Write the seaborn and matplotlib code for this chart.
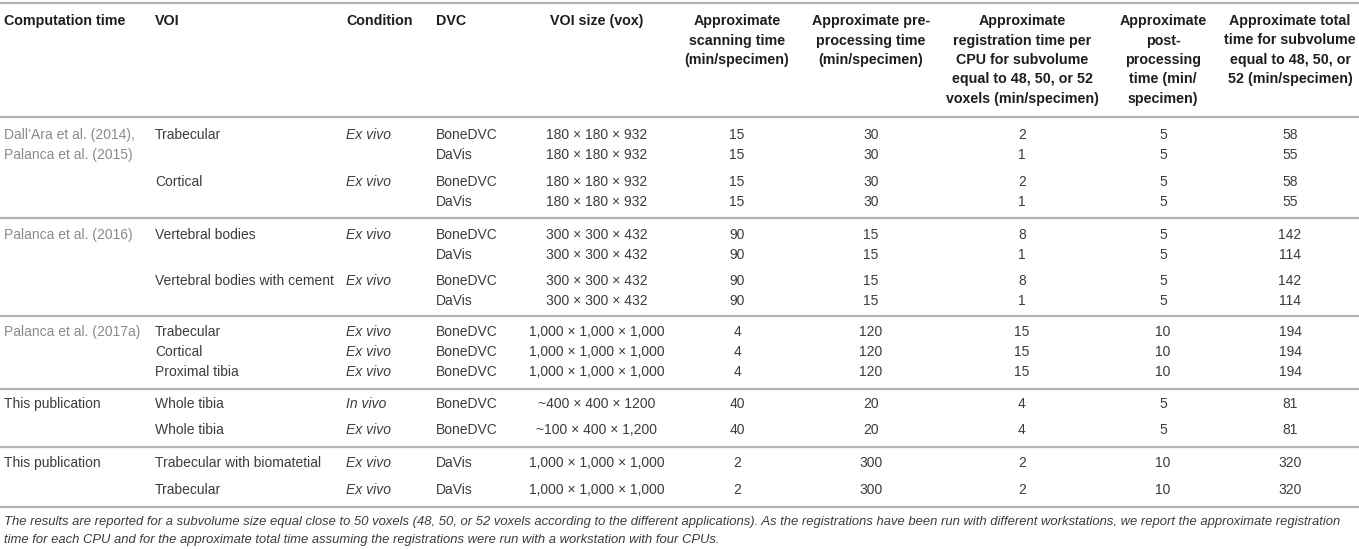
import matplotlib
matplotlib.use("Agg")
import matplotlib.pyplot as plt
import seaborn as sns

sns.set_theme(style="white")
plt.rcParams['font.family'] = ['Liberation Sans', 'DejaVu Sans']

# ---------------- data ----------------
headers = [
    "Computation time", "VOI", "Condition", "DVC", "VOI size (vox)",
    "Approximate\nscanning time\n(min/specimen)",
    "Approximate pre-\nprocessing time\n(min/specimen)",
    "Approximate\nregistration time per\nCPU for subvolume\nequal to 48, 50, or 52\nvoxels (min/specimen)",
    "Approximate\npost-\nprocessing\ntime (min/\nspecimen)",
    "Approximate total\ntime for subvolume\nequal to 48, 50, or\n52 (min/specimen)",
]
references = ["Dall’Ara et al. (2014),\nPalanca et al. (2015)", "Palanca et al. (2016)",
              "Palanca et al. (2017a)", "This publication", "This publication"]
reference_is_citation = [True, True, True, False, False]
row_group = [0, 0, 0, 0, 1, 1, 1, 1, 2, 2, 2, 3, 3, 4, 4]
voi = ["Trabecular", "", "Cortical", "",
       "Vertebral bodies", "", "Vertebral bodies with cement", "",
       "Trabecular", "Cortical", "Proximal tibia",
       "Whole tibia", "Whole tibia",
       "Trabecular with biomatetial", "Trabecular"]
condition = ["Ex vivo", "", "Ex vivo", "",
             "Ex vivo", "", "Ex vivo", "",
             "Ex vivo", "Ex vivo", "Ex vivo",
             "In vivo", "Ex vivo",
             "Ex vivo", "Ex vivo"]
dvc = ["BoneDVC", "DaVis", "BoneDVC", "DaVis",
       "BoneDVC", "DaVis", "BoneDVC", "DaVis",
       "BoneDVC", "BoneDVC", "BoneDVC",
       "BoneDVC", "BoneDVC",
       "DaVis", "DaVis"]
voi_size = ["180 × 180 × 932"] * 4 + ["300 × 300 × 432"] * 4 + ["1,000 × 1,000 × 1,000"] * 3 + \
           ["~400 × 400 × 1200", "~100 × 400 × 1,200"] + ["1,000 × 1,000 × 1,000"] * 2
scan_time = [15, 15, 15, 15, 90, 90, 90, 90, 4, 4, 4, 40, 40, 2, 2]
preproc_time = [30, 30, 30, 30, 15, 15, 15, 15, 120, 120, 120, 20, 20, 300, 300]
reg_time = [2, 1, 2, 1, 8, 1, 8, 1, 15, 15, 15, 4, 4, 2, 2]
postproc_time = [5, 5, 5, 5, 5, 5, 5, 5, 10, 10, 10, 5, 5, 10, 10]
total_time = [58, 55, 58, 55, 142, 114, 142, 114, 194, 194, 194, 81, 81, 320, 320]
footnote = ("The results are reported for a subvolume size equal close to 50 voxels (48, 50, or 52 voxels "
            "according to the different applications). As the registrations have been run with different "
            "workstations, we report the approximate registration\n"
            "time for each CPU and for the approximate total time assuming the registrations were run with "
            "a workstation with four CPUs.")

# ---------------- layout ----------------
W, H = 1359, 549
col_x = [4, 155, 346, 436, 597, 737, 871, 1022, 1163, 1290]
col_ha = ["left", "left", "left", "left", "center", "center", "center", "center", "center", "center"]
row_y = [135, 155, 182, 202, 235, 255, 281, 301, 332, 352, 372, 404, 430, 463, 490]
line_y = [3, 117, 218, 316, 389, 447, 507]
header_top = 21
header_pitch = 19.5
fs_head = 10.3
fs_body = 10.0
fs_note = 9.4
body_color = "#3c3c3c"
head_color = "#1e1e1e"
cite_color = "#8a8a8a"
rule_color = "#b4b4b4"

fig = plt.figure(figsize=(W / 100, H / 100), dpi=100)
ax = fig.add_axes([0, 0, 1, 1])
ax.set_xlim(0, W)
ax.set_ylim(H, 0)
ax.axis("off")

for y in line_y:
    ax.plot([0, W], [y, y], color=rule_color, lw=1.6, solid_capstyle="butt")

# headers
for x, ha, h in zip(col_x, col_ha, headers):
    for k, line in enumerate(h.split("\n")):
        ax.text(x, header_top + k * header_pitch, line, ha=ha, va="center",
                fontsize=fs_head, fontweight="bold", color=head_color)

# reference column (first row of each group)
first_rows = {}
for i, g in enumerate(row_group):
    first_rows.setdefault(g, i)
for g, ref in enumerate(references):
    y0 = row_y[first_rows[g]]
    color = cite_color if reference_is_citation[g] else body_color
    for k, line in enumerate(ref.split("\n")):
        ax.text(col_x[0], y0 + k * 20, line, ha="left", va="center", fontsize=fs_body, color=color)

# body cells
columns = [voi, condition, dvc, voi_size, scan_time, preproc_time, reg_time, postproc_time, total_time]
for c, values in enumerate(columns, start=1):
    for i, v in enumerate(values):
        if v == "":
            continue
        style = "italic" if c == 2 else "normal"
        ax.text(col_x[c], row_y[i], str(v), ha=col_ha[c], va="center", fontsize=fs_body,
                color=body_color, fontstyle=style)

for k, line in enumerate(footnote.split("\n")):
    ax.text(4, 522 + k * 18, line, ha="left", va="center", fontsize=fs_note,
            fontstyle="italic", color=body_color)

fig.savefig("out.png", dpi=100)
